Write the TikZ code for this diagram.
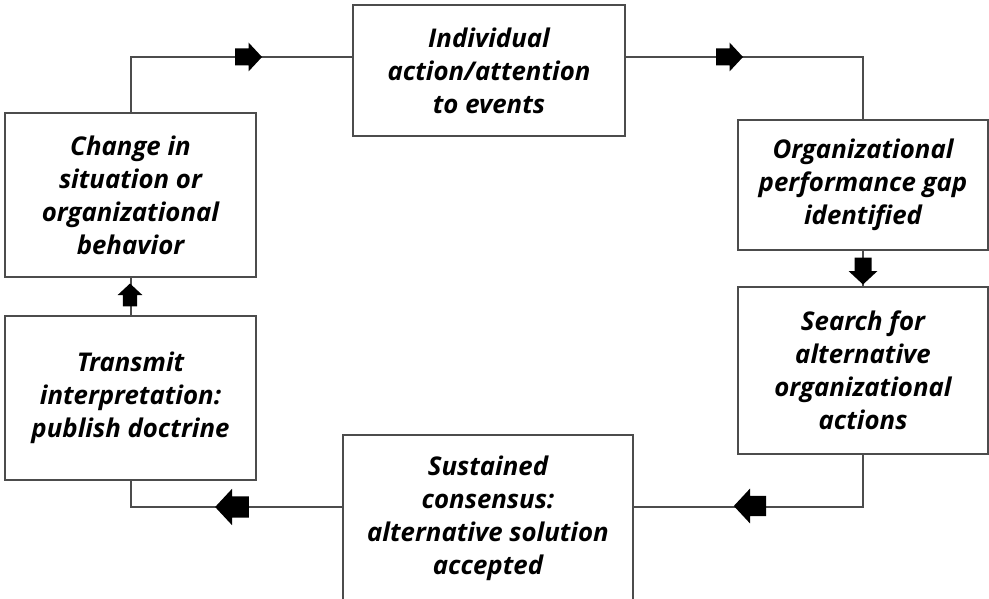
\documentclass[tikz,border=0pt]{standalone}
\usepackage{fontspec}
\setmainfont{Open Sans}
\usetikzlibrary{calc}
\tikzset{
  box/.style={draw=black!70, line width=2pt, fill=white, rectangle, inner sep=0pt,
    align=center, font=\fontsize{25.8}{33}\selectfont\bfseries\itshape},
  link/.style={draw=black!70, line width=2pt},
  blk/.pic={\fill[black] (-13.5,-8.5) -- (0,-8.5) -- (0,-14.5) -- (13.5,0) -- (0,14.5) -- (0,8.5) -- (-13.5,8.5) -- cycle;}
}
\begin{document}
\begin{tikzpicture}[x=1pt,y=-1pt]
\useasboundingbox (0,0) rectangle (989,599);
\node[box, minimum width=272pt, minimum height=131pt] (T) at (489,70.5) {Individual\\action/attention\\to events};
\node[box, minimum width=250pt, minimum height=130pt] (R1) at (863,185) {Organizational\\performance gap\\identified};
\node[box, minimum width=250pt, minimum height=167pt] (R2) at (863,370.5) {Search for\\alternative\\organizational\\actions};
\node[box, minimum width=290pt, minimum height=166pt] (B) at (488,518) {Sustained\\consensus:\\alternative solution\\accepted};
\node[box, minimum width=251pt, minimum height=164pt] (L1) at (130.5,195) {Change in\\situation or\\organizational\\behavior};
\node[box, minimum width=251pt, minimum height=164pt] (L2) at (130.5,398) {Transmit\\interpretation:\\publish doctrine};
\coordinate (tw) at ($(T.north west)!.4!(T.south west)$);
\coordinate (te) at ($(T.north east)!.4!(T.south east)$);
\coordinate (be) at ($(B.north east)!.436!(B.south east)$);
\coordinate (bw) at ($(B.north west)!.436!(B.south west)$);
\draw[link] (L1.north) |- (tw);
\draw[link] (te) -| (R1.north);
\draw[link] (R1.south) -- (R2.north);
\draw[link] (R2.south) |- (be);
\draw[link] (bw) -| (L2.south);
\draw[link] (L2.north) -- (L1.south);
\pic at (248.5,57) {blk};
\pic at (729.5,57) {blk};
\pic[rotate=-90] at (863,271) {blk};
\pic[rotate=180, scale=1.2] at (750,506) {blk};
\pic[rotate=180, scale=1.25] at (232,507) {blk};
\pic[rotate=90, scale=0.85] at (130,295) {blk};
\end{tikzpicture}
\end{document}
